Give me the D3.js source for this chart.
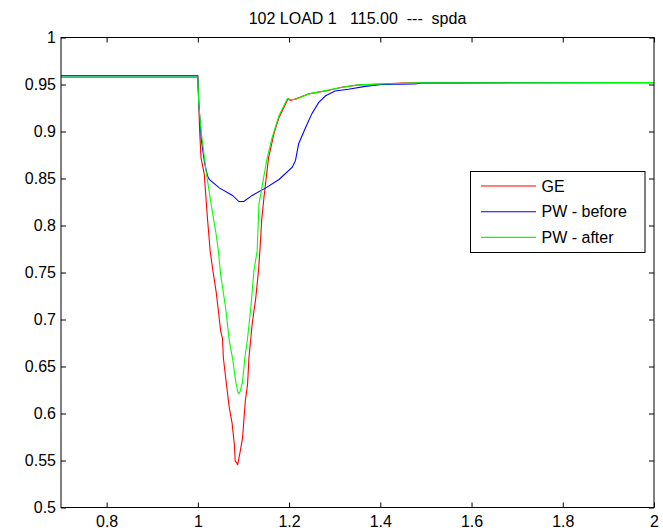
<!DOCTYPE html>
<html lang="en">
<head>
<meta charset="utf-8">
<title>102 LOAD 1 spda</title>
<script src="https://d3js.org/d3.v7.min.js"></script>
<style>
  body { margin: 0; background: #fff; }
  svg { display: block; font-family: "Liberation Sans", Arial, sans-serif; }
</style>
</head>
<body>
<svg id="chart"></svg>
<script>
// values: [time, voltage]
var geData = [
  [0.7, 0.9595], [1.0, 0.9595], [1.002, 0.930], [1.004, 0.900], [1.007, 0.872],
  [1.014, 0.855], [1.021, 0.808], [1.027, 0.773], [1.032, 0.755], [1.040, 0.730],
  [1.046, 0.705], [1.050, 0.688], [1.054, 0.680], [1.056, 0.659], [1.061, 0.638],
  [1.069, 0.606], [1.075, 0.590], [1.080, 0.567], [1.082, 0.549], [1.085, 0.548],
  [1.087, 0.545], [1.093, 0.560], [1.098, 0.574], [1.104, 0.613], [1.109, 0.631],
  [1.112, 0.659], [1.119, 0.695], [1.127, 0.723], [1.133, 0.752], [1.136, 0.773],
  [1.140, 0.806], [1.145, 0.830], [1.150, 0.851], [1.155, 0.872], [1.167, 0.898],
  [1.178, 0.915], [1.192, 0.929], [1.198, 0.935], [1.203, 0.933], [1.210, 0.934],
  [1.221, 0.936], [1.243, 0.940], [1.280, 0.943], [1.316, 0.947], [1.352, 0.9496],
  [1.403, 0.9506], [1.446, 0.9515], [1.483, 0.9517], [2.0, 0.9522]
];
var pwBeforeData = [
  [0.7, 0.958], [1.0, 0.958], [1.002, 0.930], [1.008, 0.890], [1.015, 0.866],
  [1.021, 0.853], [1.025, 0.849], [1.047, 0.840], [1.076, 0.832], [1.090, 0.8255],
  [1.101, 0.8255], [1.119, 0.832], [1.149, 0.840], [1.178, 0.849], [1.207, 0.862],
  [1.214, 0.869], [1.221, 0.887], [1.236, 0.904], [1.250, 0.919], [1.265, 0.931],
  [1.280, 0.938], [1.301, 0.943], [1.330, 0.945], [1.367, 0.948], [1.403, 0.950],
  [1.476, 0.9506], [1.490, 0.9517], [2.0, 0.9520]
];
var pwAfterData = [
  [0.7, 0.958], [1.0, 0.958], [1.002, 0.930], [1.007, 0.901], [1.018, 0.858],
  [1.029, 0.823], [1.040, 0.791], [1.045, 0.773], [1.050, 0.748], [1.061, 0.712],
  [1.069, 0.677], [1.076, 0.659], [1.083, 0.634], [1.088, 0.622], [1.090, 0.621],
  [1.093, 0.624], [1.098, 0.634], [1.103, 0.659], [1.109, 0.680], [1.116, 0.712],
  [1.123, 0.752], [1.130, 0.773], [1.134, 0.823], [1.152, 0.872], [1.163, 0.894],
  [1.178, 0.917], [1.196, 0.935], [1.203, 0.934], [1.214, 0.934], [1.243, 0.940],
  [1.280, 0.9435], [1.316, 0.947], [1.352, 0.9496], [1.403, 0.9506], [1.483, 0.9517],
  [2.0, 0.9520]
];

var seriesNames = ['GE', 'PW - before', 'PW - after'];
var seriesColors = ['#ff0000', '#0000ff', '#00ff00'];
var xTicks = [0.8, 1, 1.2, 1.4, 1.6, 1.8, 2];
var yTicks = [0.5, 0.55, 0.6, 0.65, 0.7, 0.75, 0.8, 0.85, 0.9, 0.95, 1];
var titleText = '102 LOAD 1   115.00  ---  spda';

var width = 663, height = 530;
var margin = {top: 37.5, right: 9, bottom: 22.5, left: 61};
var plotW = width - margin.left - margin.right;
var plotH = height - margin.top - margin.bottom;

var svg = d3.select('#chart')
    .attr('width', width)
    .attr('height', height);

var x = d3.scaleLinear().domain([0.7, 2]).range([0, plotW]);
var y = d3.scaleLinear().domain([0.5, 1]).range([plotH, 0]);

var g = svg.append('g')
    .attr('transform', 'translate(' + margin.left + ',' + margin.top + ')');

// lines
var line = d3.line()
    .x(function (d) { return x(d[0]); })
    .y(function (d) { return y(d[1]); });

[geData, pwBeforeData, pwAfterData].forEach(function (data, i) {
    g.append('path')
        .datum(data)
        .attr('fill', 'none')
        .attr('stroke', seriesColors[i])
        .attr('stroke-width', 1.1)
        .attr('d', line);
});

// axes, matlab style: ticks pointing inward on all four sides
var fmt = function (d) { return String(+d.toFixed(2)); };

g.append('g')
    .attr('transform', 'translate(0,' + plotH + ')')
    .call(d3.axisBottom(x).tickValues(xTicks).tickFormat(fmt).tickSize(-5).tickPadding(8));
g.append('g')
    .call(d3.axisTop(x).tickValues(xTicks).tickFormat('').tickSize(-5));

g.append('g')
    .call(d3.axisLeft(y).tickValues(yTicks).tickFormat(fmt).tickSize(-5).tickPadding(5));
g.append('g')
    .attr('transform', 'translate(' + plotW + ',0)')
    .call(d3.axisRight(y).tickValues(yTicks).tickFormat('').tickSize(-5));

g.selectAll('.domain').remove();
g.selectAll('.tick line').attr('stroke', '#000');
g.selectAll('.tick text')
    .attr('fill', '#000')
    .style('font-size', '16px')
    .style('font-family', '"Liberation Sans", Arial, sans-serif');

g.append('rect')
    .attr('x', 0)
    .attr('y', 0)
    .attr('width', plotW)
    .attr('height', plotH)
    .attr('fill', 'none')
    .attr('stroke', '#000')
    .attr('stroke-width', 1);

// title
svg.append('text')
    .attr('x', margin.left + plotW / 2)
    .attr('y', 24)
    .attr('text-anchor', 'middle')
    .attr('xml:space', 'preserve')
    .style('white-space', 'pre')
    .style('font-size', '16px')
    .text(titleText);

// legend
var legend = svg.append('g').attr('transform', 'translate(470.5,171.5)');
legend.append('rect')
    .attr('width', 174.5)
    .attr('height', 81)
    .attr('fill', '#fff')
    .attr('stroke', '#000')
    .attr('stroke-width', 1);

seriesNames.forEach(function (name, i) {
    var row = legend.append('g').attr('transform', 'translate(0,' + (14.5 + i * 25.7) + ')');
    row.append('line')
        .attr('x1', 10.5).attr('x2', 65.5)
        .attr('stroke', seriesColors[i])
        .attr('stroke-width', 1.1);
    row.append('text')
        .attr('x', 71)
        .attr('dy', '0.36em')
        .style('font-size', '16px')
        .text(name);
});
</script>
</body>
</html>
